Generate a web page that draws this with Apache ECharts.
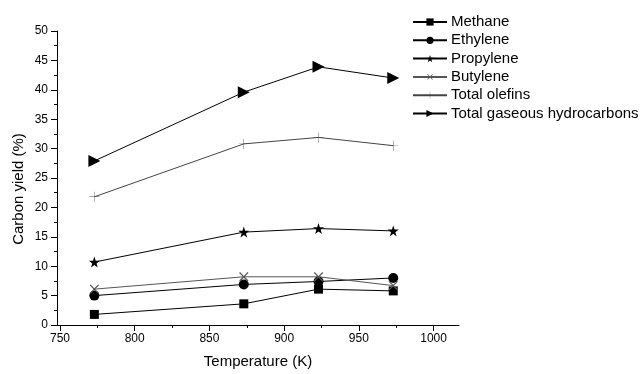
<!DOCTYPE html>
<html>
<head>
<meta charset="utf-8">
<script src="https://cdn.jsdelivr.net/npm/echarts@6/dist/echarts.min.js"></script>
<style>html,body{margin:0;padding:0;background:#fff}#c{width:640px;height:374px}</style>
</head>
<body>
<div id="c"></div>
<script>
var temperatures = [773, 873, 923, 973];
var seriesNames = ['Methane', 'Ethylene', 'Propylene', 'Butylene', 'Total olefins', 'Total gaseous hydrocarbons'];
var methane = [1.8, 3.6, 6.1, 5.8];
var ethylene = [5.0, 6.9, 7.4, 8.0];
var propylene = [10.7, 15.8, 16.4, 16.0];
var butylene = [6.1, 8.2, 8.2, 6.7];
var totalOlefins = [21.8, 30.8, 31.9, 30.5];
var totalGaseous = [27.9, 39.6, 43.9, 42.0];
var xTickValues = [750, 800, 850, 900, 950, 1000];
var xMinorValues = [775, 825, 875, 925, 975];

var FONT = 'Liberation Sans, Arial, sans-serif';
var symbols = {
  rect: 'rect',
  circle: 'circle',
  star: 'path://M50,0 L61.8,35.1 L98.9,35.1 L68.9,56.8 L80.3,91.9 L50,70.2 L19.7,91.9 L31.1,56.8 L1.1,35.1 L38.2,35.1 Z',
  cross: 'path://M45,0 L55,0 L55,45 L100,45 L100,55 L55,55 L55,100 L45,100 L45,55 L0,55 L0,45 L45,45 Z',
  plus: 'path://M48,0 L52,0 L52,48 L100,48 L100,52 L52,52 L52,100 L48,100 L48,52 L0,52 L0,48 L48,48 Z',
  tri: 'path://M0,0 L100,50 L0,100 Z'
};
function pairs(vals) { return temperatures.map(function (t, i) { return [t, vals[i]]; }); }
function mk(name, vals, sym, size, color, rot) {
  return {
    name: name, type: 'line', data: pairs(vals), xAxisIndex: 0,
    symbol: sym, symbolSize: size, symbolRotate: rot || 0,
    lineStyle: { color: color, width: 1 },
    itemStyle: { color: color, borderWidth: 0 },
    emphasis: { disabled: true }, animation: false
  };
}
var chart = echarts.init(document.getElementById('c'));
chart.setOption({
  animation: false,
  textStyle: { fontFamily: FONT },
  grid: { left: 57, right: 181, top: 31, bottom: 46.5, containLabel: false },
  legend: {
    left: 412, top: 14.5, orient: 'vertical', padding: 0,
    itemWidth: 34, itemHeight: 9, itemGap: 3.3,
    textStyle: { fontSize: 15, color: '#000', fontFamily: FONT, padding: [0, 0, 0, -1] },
    data: seriesNames
  },
  xAxis: [{
    type: 'value', min: 748, max: 1017,
    name: 'Temperature (K)', nameLocation: 'middle', nameGap: 29,
    nameTextStyle: { fontSize: 15, color: '#000', fontFamily: FONT },
    axisLine: { show: true, onZero: false, lineStyle: { color: '#000', width: 1 } },
    axisTick: { show: true, inside: false, length: 6, customValues: xTickValues, lineStyle: { color: '#000' } },
    axisLabel: { show: true, customValues: xTickValues, fontSize: 12, color: '#000', margin: 8, fontFamily: FONT,
      formatter: function (v) { return String(v); } },
    splitLine: { show: false }
  }, {
    type: 'value', min: 748, max: 1017, position: 'bottom',
    axisLine: { show: false },
    axisTick: { show: true, inside: false, length: 3, customValues: xMinorValues, lineStyle: { color: '#000' } },
    axisLabel: { show: false },
    splitLine: { show: false }
  }],
  yAxis: {
    type: 'value', min: 0, max: 50, interval: 5,
    axisLine: { show: true, onZero: false, lineStyle: { color: '#000', width: 1 } },
    axisTick: { show: true, inside: false, length: 6, lineStyle: { color: '#000' } },
    minorTick: { show: true, splitNumber: 2, length: 3, lineStyle: { color: '#000' } },
    axisLabel: { fontSize: 12, color: '#000', margin: 9, fontFamily: FONT },
    splitLine: { show: false }, minorSplitLine: { show: false }
  },
  graphic: [{
    type: 'text', x: 19, y: 189, rotation: Math.PI / 2,
    style: { text: 'Carbon yield (%)', fontSize: 15, fontFamily: FONT, fill: '#000', align: 'center', verticalAlign: 'middle' }
  }],
  series: [
    mk(seriesNames[0], methane, symbols.rect, 9, '#000'),
    mk(seriesNames[1], ethylene, symbols.circle, 10, '#000'),
    mk(seriesNames[2], propylene, symbols.star, 11, '#000'),
    mk(seriesNames[3], butylene, symbols.cross, 12, '#555', 45),
    mk(seriesNames[4], totalOlefins, symbols.plus, 10, '#444'),
    mk(seriesNames[5], totalGaseous, symbols.tri, 12, '#000')
  ]
});
</script>
</body>
</html>
